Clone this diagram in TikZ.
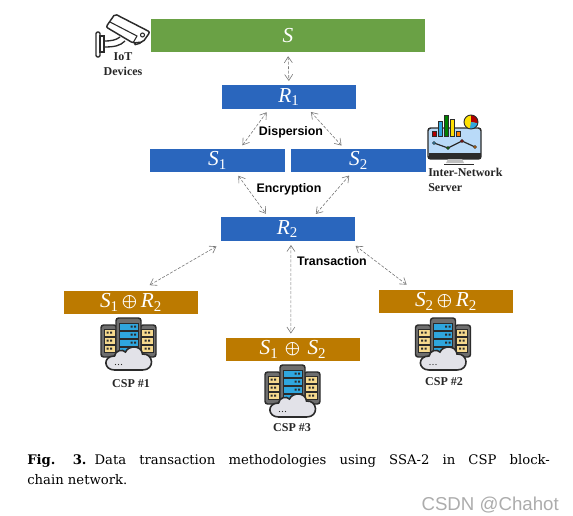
\documentclass[tikz,border=0pt]{standalone}
\usepackage{fontspec}
\setmainfont{Liberation Serif}
\setsansfont{Liberation Sans}
\newfontfamily\capfont{DejaVu Serif}
\usetikzlibrary{arrows.meta}
\definecolor{ColGreen}{HTML}{6AA145}
\definecolor{ColBlue}{HTML}{2A66BD}
\definecolor{ColGold}{HTML}{BC7A00}
\definecolor{ColArrow}{HTML}{777777}
\definecolor{ColIcon}{HTML}{2B2B2B}
\definecolor{ColSky}{HTML}{2FA6DE}
\definecolor{ColSand}{HTML}{F5D98E}
\definecolor{ColSide}{HTML}{6E6E6E}
\definecolor{ColCloud}{HTML}{E2E2E8}
\definecolor{ColScreen}{HTML}{B9DAF8}
\newcommand{\SubVar}[2]{\textit{#1}\textsubscript{#2}}
\newcommand{\XorSign}{\,$\bigoplus$\,}
\tikzset{
	bar/.style={rectangle,inner sep=0pt,minimum width=100.5pt,minimum height=17.6pt,text=white,font=\fontsize{16}{18}\selectfont},
	link/.style={draw=ColArrow,dashed,dash pattern=on 2.2pt off 1.2pt,line width=0.45pt,{Straight Barb[length=4.5pt,width=6pt]}-{Straight Barb[length=4.5pt,width=6pt]},shorten <=3pt,shorten >=3pt},
	far link/.style={link,shorten <=8pt,shorten >=8pt},
	step label/.style={font=\sffamily\bfseries\fontsize{9.3}{11}\selectfont,inner sep=0pt},
	icon label/.style={font=\bfseries\fontsize{9}{10.7}\selectfont,inner sep=0pt,text=black!85},
	server/.pic={
		\draw[ColIcon,line width=1.1pt,fill=ColSide,rounded corners=2pt] (-27.5,-19) rectangle (-12,13);
		\draw[ColIcon,line width=1.1pt,fill=ColSide,rounded corners=2pt] (12,-19) rectangle (27.5,13);
		\foreach \y in {-15,-7,1} {
			\draw[ColIcon,line width=0.4pt,fill=ColSand] (-24.5,\y) rectangle (-13,\y+7);
			\draw[ColIcon,line width=0.4pt,fill=ColSand] (13,\y) rectangle (24.5,\y+7);
			\fill[ColIcon] (-22,\y+2.5) rectangle (-20,\y+4.5) (-18.5,\y+2.5) rectangle (-16.5,\y+4.5);
			\fill[ColIcon] (16,\y+2.5) rectangle (18,\y+4.5) (19.5,\y+2.5) rectangle (21.5,\y+4.5);
		}
		\draw[ColIcon,line width=1.1pt,fill=ColSide,rounded corners=2pt] (-12.5,-26) rectangle (12.5,11);
		\foreach \y in {-21,-13,-5,3} {
			\draw[ColIcon,line width=0.4pt,fill=ColSky] (-9.5,\y) rectangle (9.5,\y+7);
			\fill[ColIcon] (2,\y+2.5) rectangle (4,\y+4.5) (5.5,\y+2.5) rectangle (7.5,\y+4.5);
		}
		\draw[ColIcon,line width=1.2pt,fill=ColCloud] (-14,26) .. controls (-25,26) and (-26,12) .. (-14,12) .. controls (-13,6) and (-6,5) .. (-3,8) .. controls (0,1) and (13,1) .. (14,10) .. controls (25,9) and (27,26) .. (14,26) -- cycle;
		\fill[ColIcon] (-13,20.5) circle (0.7) (-10,20.5) circle (0.7) (-7,20.5) circle (0.7);
	}
}
\begin{document}
\begin{tikzpicture}[x=0.75pt,y=-0.75pt]
	\useasboundingbox (0,0) rectangle (573,515);
	\node[bar,fill=ColGreen,minimum width=205.5pt,minimum height=24.7pt] (S) at (288,35.5) {\textit{S}};
	\node[bar,fill=ColBlue] (R1) at (289,97) {\SubVar{R}{1}};
	\node[bar,fill=ColBlue,minimum width=101.2pt] (S1) at (217.5,160.5) {\SubVar{S}{1}};
	\node[bar,fill=ColBlue,minimum width=101.2pt] (S2) at (358.5,160.5) {\SubVar{S}{2}};
	\node[bar,fill=ColBlue] (R2) at (287.5,229) {\SubVar{R}{2}};
	\node[bar,fill=ColGold] (XA) at (131,302.5) {\SubVar{S}{1}\XorSign\SubVar{R}{2}};
	\node[bar,fill=ColGold] (XB) at (446,301.5) {\SubVar{S}{2}\XorSign\SubVar{R}{2}};
	\node[bar,fill=ColGold] (XC) at (293,349.5) {\SubVar{S}{1}\,\XorSign\,\SubVar{S}{2}};
	\draw[link] (S.south) -- (R1.north);
	\draw[link] (R1.-149) -- (S1.28);
	\draw[link] (R1.-32) -- (S2.140);
	\draw[link] (S1.-33) -- (R2.148);
	\draw[link] (S2.-119) -- (R2.25);
	\draw[far link] (R2.-169) -- (XA.52);
	\draw[link] (R2.-74) -- (XC.100);
	\draw[far link,shorten <=6pt,shorten >=6pt] (R2.-11) -- (XB.160);
	\node[step label] (Disp) at (291,132) {Dispersion};
	\node[step label] (Encr) at (289,189) {Encryption};
	\node[step label] (Tran) at (332,261) {Transaction};
	\node[icon label,align=center] (Iot) at (123,64) {IoT\\Devices};
	\node[icon label,align=left,anchor=west] (Inet) at (428,180) {Inter-Network\\Server};
	\node[icon label] (CspA) at (131,384) {CSP \#1};
	\node[icon label] (CspB) at (444,382) {CSP \#2};
	\node[icon label] (CspC) at (292,428) {CSP \#3};
	\pic at (128.5,344) {server};
	\pic at (443,344) {server};
	\pic at (292.5,391) {server};
	\draw[ColIcon,line width=1pt,fill=white,rounded corners=1pt] (137,40) -- (134,45) -- (141,43) -- (143,39);
	\draw[ColIcon,line width=1.1pt,fill=white,rounded corners=1.5pt] (115,14) -- (150,32) -- (143,42) -- (133,43) -- (106,27) -- cycle;
	\draw[ColIcon,line width=0.8pt] (110,22) -- (137,36) -- (133,43);
	\draw[ColIcon,line width=0.8pt] (142.5,35) circle (2);
	\draw[ColIcon,line width=1pt,fill=white,rounded corners=1pt] (96,32) rectangle (100,57);
	\draw[ColIcon,line width=1pt,fill=white] (100,36) rectangle (104,52);
	\draw[ColIcon,line width=1pt] (104,41) .. controls (112,41) and (116,40) .. (120,37) (104,47) .. controls (114,47) and (120,46) .. (125,41);
	\draw[ColIcon,line width=1.1pt,fill=ColScreen,rounded corners=2pt] (428,128) rectangle (481,159);
	\fill[ColIcon] (428.5,153) rectangle (480.5,159);
	\fill[gray!50] (448,159) -- (462,159) -- (464,163) -- (446,163) -- cycle;
	\draw[ColIcon,line width=1.2pt] (444,164.5) -- (474,164.5);
	\foreach \xa/\ya/\colr in {432/131/red!70!black,438/121/ColSky,444/115/green!50!black,450/119/yellow!80!orange,456/131/orange} {
		\draw[ColIcon,line width=0.3pt,fill=\colr] (\xa,\ya) rectangle (\xa+4,136);
	}
	\draw[ColIcon,line width=0.9pt] (434,143) -- (448,148) -- (462,141) -- (475,147);
	\foreach \xa/\ya/\colr in {434/143/ColSky,448/148/green!50!black,462/141/red!70!black,475/147/orange} {
		\draw[ColIcon,line width=0.4pt,fill=\colr] (\xa,\ya) circle (1.6);
	}
	\fill[yellow!85!orange] (471,122) circle (7);
	\fill[red!70!black] (471,122) -- (471,115) arc[start angle=-90,end angle=10,radius=7] -- cycle;
	\fill[ColSky] (471,122) -- (477.9,123.2) arc[start angle=10,end angle=100,radius=7] -- cycle;
	\draw[ColIcon,line width=0.7pt] (471,122) circle (7);
	\node[anchor=north west,inner sep=0pt,text width=392pt,align=justify,font=\capfont\fontsize{9.9}{15}\selectfont] (Capt) at (27,454) {\textbf{Fig.\kern 13pt 3.}\kern 6pt Data transaction methodologies using SSA-2 in CSP block-\linebreak chain network.};
	\node[anchor=east,inner sep=0pt,text=gray!65,font=\sffamily\fontsize{14}{16}\selectfont] (Mark) at (559,505) {CSDN @Chahot};
\end{tikzpicture}
\end{document}
